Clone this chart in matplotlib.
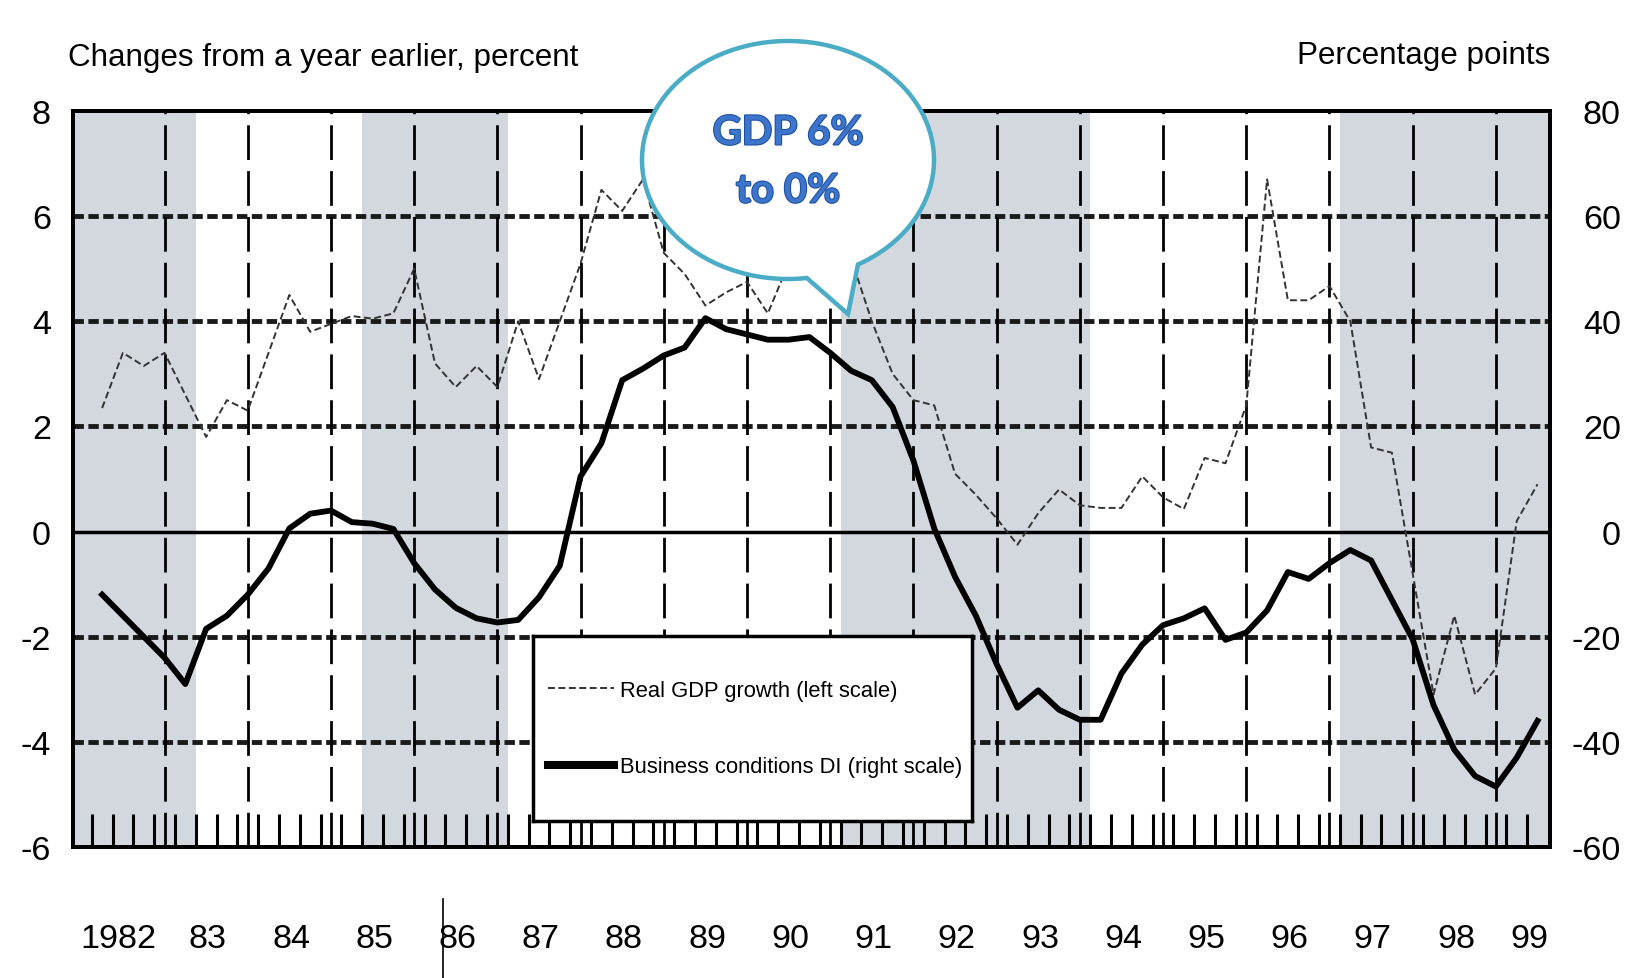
import numpy as np
import matplotlib
matplotlib.use("Agg")
import matplotlib.pyplot as plt
import matplotlib.transforms as mtransforms
import matplotlib.patheffects as pe
from matplotlib import font_manager as fm
from matplotlib.lines import Line2D
from matplotlib.patches import Polygon

# quarterly data, first point 1982 Q2
start = 1982.25
gdp = [2.35, 3.4, 3.15,
       3.4, 2.6, 1.8, 2.5,
       2.3, 3.4, 4.5, 3.8,
       3.95, 4.1, 4.05, 4.15,
       5.0, 3.2, 2.75, 3.15,
       2.75, 4.0, 2.9, 4.0,
       5.1, 6.5, 6.1, 6.7,
       5.3, 4.9, 4.3, 4.55,
       4.75, 4.15, 5.1, 5.6,
       5.6, 5.2, 4.0, 3.0,
       2.5, 2.4, 1.1, 0.7,
       0.25, -0.25, 0.35, 0.8,
       0.5, 0.45, 0.45, 1.05,
       0.65, 0.43, 1.4, 1.3,
       2.4, 6.7, 4.4, 4.4,
       4.67, 4.0, 1.6, 1.5,
       -0.8, -3.1, -1.6, -3.1,
       -2.6, 0.2, 0.9]
di = [-12, -16, -20,
      -24, -29, -18.5, -16,
      -12, -7, 0.6, 3.4,
      4, 1.8, 1.5, 0.5,
      -6, -11, -14.5, -16.5,
      -17.3, -16.8, -12.5, -6.5,
      10.5, 16.8, 28.8, 31,
      33.5, 35, 40.6, 38.5,
      37.5, 36.5, 36.5, 37,
      34, 30.6, 28.8, 23.7,
      13.5, 0.6, -8.6, -16,
      -25.2, -33.5, -30.2, -33.9,
      -35.8, -35.8, -27, -21.5,
      -17.8, -16.5, -14.6, -20.6,
      -19.2, -15, -7.7, -9,
      -6, -3.5, -5.5, -13,
      -20.5, -33, -41.5, -46.5,
      -48.5, -43, -36]
quarters = start + 0.25 * np.arange(len(gdp))

# shaded periods
spans = [(1981.9, 1983.375), (1985.375, 1987.125),
         (1991.125, 1994.125), (1997.125, 1999.65)]

year_labels = ['1982', '83', '84', '85', '86', '87', '88', '89', '90',
               '91', '92', '93', '94', '95', '96', '97', '98', '99']
left_ticks = [-6, -4, -2, 0, 2, 4, 6, 8]
right_ticks = [-60, -40, -20, 0, 20, 40, 60, 80]
grid_levels = [6, 4, 2, -2, -4]

W, H = 1631, 979

names = {f.name for f in fm.fontManager.ttflist}
if 'Liberation Sans Narrow' in names:
    narrow, k, fs_leg = 'Liberation Sans Narrow', 1.0, 20.8
else:
    narrow, k, fs_leg = 'Liberation Sans', 0.82, 15.8
plt.rcParams['font.family'] = [narrow, 'DejaVu Sans']
plt.rcParams['axes.unicode_minus'] = False
plt.rcParams['lines.scale_dashes'] = False

fs_tick = 30 * k
fs_title = 27.5 * k

fig = plt.figure(figsize=(W / 100, H / 100), dpi=100)
ax = fig.add_axes([73 / W, 1 - 848 / H, (1550 - 73) / W, (848 - 112) / H])

for s, e in spans:
    ax.axvspan(s, e, color='#D3D8DE', lw=0, zorder=0)
for v in grid_levels:
    ax.axhline(v, color='#1a1a1a', lw=3.5, dashes=(7.5, 3.2), zorder=1)
for yr in range(1983, 2000):
    ax.axvline(yr, color='black', lw=2, dashes=(25, 8), zorder=1)
ax.axhline(0, color='black', lw=2.5, zorder=2)

ax.plot(quarters, gdp, color='#333333', lw=1.4, dashes=(5, 2.5), zorder=3)

ax.set_xlim(1981.9, 1999.65)
ax.set_ylim(-6, 8)
ax.set_yticks(left_ticks)
ax.set_xticks(np.arange(1982.125, 1999.5, 0.25))
ax.tick_params(axis='x', direction='in', length=24, width=2.2,
               labelbottom=False, color='black')
ax.tick_params(axis='y', length=0, pad=16, labelsize=fs_tick)

ax2 = ax.twinx()
ax2.plot(quarters, di, color='black', lw=4.2, solid_joinstyle='round', zorder=3)
ax2.set_ylim(-60, 80)
ax2.set_yticks(right_ticks)
ax2.tick_params(axis='y', length=0, pad=51, labelsize=fs_tick)
for lab in ax2.get_yticklabels():
    lab.set_horizontalalignment('right')

for a in (ax, ax2):
    for sp in a.spines.values():
        sp.set_linewidth(2.8)
        sp.set_color('black')

trans = mtransforms.blended_transform_factory(ax.transData, ax.transAxes)
label_x = [yr + 0.52 for yr in range(1982, 2000)]
label_x[0] = 1982.45
label_x[-1] = 1999.4
for lbl, xp in zip(year_labels, label_x):
    ax.text(xp, -0.136, lbl, transform=trans, ha='center', va='baseline',
            fontsize=fs_tick)

fig.text(68 / W, 1 - 66 / H, 'Changes from a year earlier, percent',
         ha='left', va='baseline', fontsize=fs_title)
fig.text(1550 / W, 1 - 64 / H, 'Percentage points',
         ha='right', va='baseline', fontsize=fs_title)

# legend box
lax = fig.add_axes([533 / W, 1 - 822 / H, 439 / W, 185 / H])
lax.set_xticks([])
lax.set_yticks([])
lax.set_facecolor('white')
for sp in lax.spines.values():
    sp.set_linewidth(2.5)
fpx = fs_leg * 100 / 72
handles = [Line2D([], [], color='#333333', lw=1.4, dashes=(5, 2.5)),
           Line2D([], [], color='black', lw=5.8)]
lax.legend(handles, ['Real GDP growth (left scale)',
                     'Business conditions DI (right scale)'],
           loc='center left', bbox_to_anchor=(15 / 439, 0.5), frameon=False,
           fontsize=fs_leg, borderpad=0, borderaxespad=0,
           handlelength=66 / fpx, handletextpad=6 / fpx,
           labelspacing=(82 - 1.2 * fpx) / fpx)

# speech bubble
ov = fig.add_axes([0, 0, 1, 1], zorder=20)
ov.set_xlim(0, W)
ov.set_ylim(H, 0)
ov.axis('off')
ov.patch.set_alpha(0)
cx, cy, rx, ry = 788, 161, 146, 119
ta = np.arctan2((280 - cy) / ry, (807 - cx) / rx)
tb = np.arctan2((267 - cy) / ry, (859 - cx) / rx) + 2 * np.pi
t = np.linspace(ta, tb, 300)
pts = np.column_stack([cx + rx * np.cos(t), cy + ry * np.sin(t)])
pts = np.vstack([pts, [[848, 315]]])
ov.add_patch(Polygon(pts, closed=True, facecolor='white', edgecolor='#4BACC6',
                     lw=3.2, joinstyle='miter'))
bub_fx = [pe.withStroke(linewidth=1.5, foreground='#1C4F9C')]
ov.text(cx, 134, 'GDP 6%', ha='center', va='center', fontsize=29,
        weight='bold', color='#3D74CC', family=['Lato', 'DejaVu Sans'],
        path_effects=bub_fx)
ov.text(cx, 192, 'to 0%', ha='center', va='center', fontsize=29,
        weight='bold', color='#3D74CC', family=['Lato', 'DejaVu Sans'],
        path_effects=bub_fx)
ov.plot([443, 443], [900, 979], color='black', lw=1.2)

fig.savefig('out.png', dpi=100)
